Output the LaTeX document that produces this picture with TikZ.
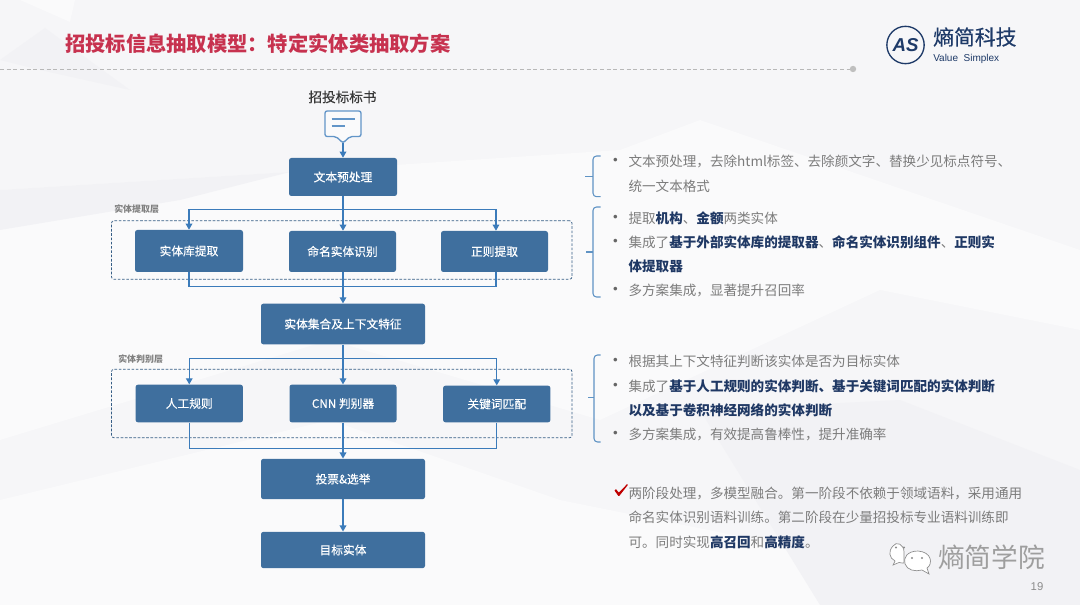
\documentclass[tikz,border=0pt]{standalone}
\usepackage{fontspec}
\setmainfont{Noto Sans CJK SC}
\newfontfamily\latinfont{Liberation Sans}
\newfontfamily\medfont[FakeBold=0.35]{Noto Sans CJK SC}
\usetikzlibrary{arrows.meta,calc}
\definecolor{bgbase}{HTML}{F6F6F8}
\definecolor{bglight}{HTML}{FAFAFB}
\definecolor{bgdark}{HTML}{F2F2F5}
\definecolor{boxblue}{HTML}{3F6F9E}
\definecolor{flowblue}{HTML}{3B7BBA}
\definecolor{bracegreyblue}{HTML}{5F93C4}
\definecolor{titlered}{HTML}{C7324F}
\definecolor{navy}{HTML}{1F3864}
\definecolor{greytext}{HTML}{7C7C7C}
\definecolor{logoblue}{HTML}{1E3A68}
\tikzset{
  box/.style={fill=boxblue,rounded corners=1.8pt,inner sep=0pt,text=white,font=\medfont\fontsize{8.8}{10}\selectfont,align=center},
  flow/.style={draw=flowblue,line width=0.95pt},
  arr/.style={flow,-{Triangle[length=4.6pt,width=5pt]}},
  layer/.style={draw=boxblue!85!black,dashed,dash pattern=on 2pt off 1.2pt,line width=0.55pt,rounded corners=2pt},
  layerlabel/.style={inner sep=0pt,text=black!50,font=\fontsize{6.7}{8}\selectfont\bfseries},
  txt/.style={anchor=west,inner sep=0pt,text=greytext,font=\fontsize{10.18}{12}\selectfont},
  bul/.style={inner sep=0pt,text=black!60,font=\latinfont\fontsize{10}{12}\selectfont},
  bracket/.style={draw=bracegreyblue,line width=0.8pt,rounded corners=2.6pt}
}
\newcommand{\hilite}[1]{{\bfseries\color{navy}#1}}
\begin{document}
\begin{tikzpicture}[x=0.75pt,y=-0.75pt]
\useasboundingbox (0,0) rectangle (1080,605);
% background
\fill[bgbase] (0,0) rectangle (1080,605);
\fill[bglight] (0,190) -- (290,172) -- (620,150) -- (700,120) -- (1080,250) -- (1080,330) -- (880,290) -- (600,420) -- (330,340) -- (0,440) -- cycle;
\fill[bgdark] (0,60) -- (45,28) -- (130,90) -- (40,70) -- cycle;
\fill[bglight] (20,0) -- (70,22) -- (75,0) -- cycle;
\fill[bgdark] (0,190) -- (290,172) -- (180,200) -- (0,230) -- cycle;
\fill[bgdark] (0,500) -- (120,540) -- (0,605) -- cycle;
\fill[bglight] (0,500) -- (330,420) -- (560,500) -- (1080,605) -- (0,605) -- cycle;
\fill[bgdark] (700,410) -- (900,400) -- (1080,470) -- (1080,605) -- (820,605) -- cycle;
% header
\node[inner sep=0pt,anchor=west,text=titlered,font=\fontsize{15.2}{18}\selectfont\bfseries] (title) at (65,44) {招投标信息抽取模型：特定实体类抽取方案};
\coordinate (ruleL) at (0,69);
\node[circle,fill=black!25,minimum size=4.8pt,inner sep=0pt] (ruledot) at (853,69) {};
\draw[black!28,dashed,dash pattern=on 3pt off 2pt,line width=0.5pt] (ruleL) -- (ruledot);
% logo
\node[circle,draw=logoblue,line width=1pt,minimum size=28pt,inner sep=0pt,text=logoblue,font=\latinfont\fontsize{14}{16}\selectfont\bfseries\itshape] (logo) at (905.5,45) {AS};
\node[inner sep=0pt,anchor=west,text=logoblue,font=\medfont\fontsize{15.6}{18}\selectfont] (brand) at (933,37) {熵简科技};
\node[inner sep=0pt,anchor=west,text=logoblue,font=\latinfont\fontsize{7.5}{9}\selectfont] (brandEn) at (933,59) {Value\ \ Simplex};
% source
\node[inner sep=0pt,text=black!78,font=\medfont\fontsize{10.2}{12}\selectfont] (src) at (342.5,97) {招投标标书};
\coordinate (tip) at (343,143);
\draw[draw=flowblue!80!white,fill=white,fill opacity=0.5,line width=1pt,rounded corners=1.6pt,line join=round]
  (325,111) -- (361,111) -- (361,136.5) -- (350,136.5) -- (343,143) -- (336,136.5) -- (325,136.5) -- cycle;
\draw[flowblue!80!white,line width=0.9pt] (331.5,119) -- (355,119) (331.5,126) -- (345,126);
% layers
\node[layer,minimum width=345.5pt,minimum height=44pt,inner sep=0pt] (layerA) at (341.75,250) {};
\node[layer,minimum width=345.5pt,minimum height=51.5pt,inner sep=0pt] (layerB) at (341.75,403.5) {};
\node[layerlabel,anchor=west] (layerAl) at (114,209) {实体提取层};
\node[layerlabel,anchor=west] (layerBl) at (118,359) {实体判别层};
% boxes
\node[box,minimum width=81pt,minimum height=28.5pt] (pre) at (343,177) {文本预处理};
\node[box,minimum width=81pt,minimum height=31.5pt] (a1) at (189,251) {实体库提取};
\node[box,minimum width=80.25pt,minimum height=30.75pt] (a2) at (342.5,251.5) {命名实体识别};
\node[box,minimum width=80.25pt,minimum height=30.75pt] (a3) at (494.5,251.5) {正则提取};
\node[box,minimum width=123pt,minimum height=30.5pt] (set) at (343,324) {实体集合及上下文特征};
\node[box,minimum width=80.5pt,minimum height=28.25pt] (b1) at (189.25,403.5) {人工规则};
\node[box,minimum width=80.25pt,minimum height=28.25pt] (b2) at (343,403.5) {CNN 判别器};
\node[box,minimum width=80.5pt,minimum height=27.5pt] (b3) at (496.75,404) {关键词匹配};
\node[box,minimum width=123pt,minimum height=30.25pt] (vote) at (343,479) {投票\&选举};
\node[box,minimum width=123pt,minimum height=27.25pt] (target) at (343,550) {目标实体};
% flow
\coordinate (busA) at (343,209.3);
\coordinate (busAout) at (343,286.7);
\coordinate (busB) at (343,358.7);
\coordinate (busBout) at (343,448.7);
\draw[arr] (tip) -- (pre.north);
\draw[flow] (pre.south) -- (busA);
\draw[arr] (busA) -| (a1.north);
\draw[arr] (busA) -- (a2.north -| busA);
\draw[arr] (busA) -| ([xshift=1.1pt]a3.north);
\draw[flow,line width=0.8pt] (a1.south) |- (busAout);
\draw[flow,line width=0.8pt] ([xshift=1.1pt]a3.south) |- (busAout);
\draw[flow] (a2.south -| busAout) -- (busAout);
\draw[arr] (busAout) -- (set.north);
\draw[flow] (set.south) -- (busB);
\draw[arr] (busB) -| (b1.north);
\draw[arr] (busB) -- (b2.north);
\draw[arr] (busB) -| (b3.north);
\draw[flow,line width=0.8pt] (b1.south) |- (busBout);
\draw[flow,line width=0.8pt] (b3.south) |- (busBout);
\draw[flow] (b2.south) -- (busBout);
\draw[arr] (busBout) -- (vote.north);
\draw[arr] (vote.south) -- (target.north);
% braces
\coordinate (brA) at (585,176.7);
\draw[bracket] (600.7,156) -- (593,156) -- (593,196.7) -- (600.7,196.7);
\draw[bracket] (brA) -- (593,176.7);
\coordinate (brB) at (586,252);
\draw[bracket] (600.7,207) -- (593,207) -- (593,297) -- (600.7,297);
\draw[bracket] (brB) -- (593,252);
\coordinate (brC) at (588,397.7);
\draw[bracket] (600.7,355) -- (594,355) -- (594,442) -- (600.7,442);
\draw[bracket] (brC) -- (594,397.7);
% right text
\node[bul] (d1) at (615.5,161.5) {•};
\node[txt] (t1) at (628.3,161.5) {文本预处理，去除html标签、去除颜文字、替换少见标点符号、};
\node[txt] (t1b) at (628.3,186) {统一文本格式};
\node[bul] (d2) at (615.5,218) {•};
\node[txt] (t2) at (628.3,218) {提取\hilite{机构}、\hilite{金额}两类实体};
\node[bul] (d3) at (615.5,242) {•};
\node[txt] (t3) at (628.3,242) {集成了\hilite{基于外部实体库的提取器}、\hilite{命名实体识别组件}、\hilite{正则实}};
\node[txt] (t3b) at (628.3,266) {\hilite{体提取器}};
\node[bul] (d4) at (615.5,290.5) {•};
\node[txt] (t4) at (628.3,290.5) {多方案集成，显著提升召回率};
\node[bul] (d5) at (615.5,361.5) {•};
\node[txt] (t5) at (628.3,361.5) {根据其上下文特征判断该实体是否为目标实体};
\node[bul] (d6) at (615.5,386) {•};
\node[txt] (t6) at (628.3,386) {集成了\hilite{基于人工规则的实体判断、基于关键词匹配的实体判断}};
\node[txt] (t6b) at (628.3,410.5) {\hilite{以及基于卷积神经网络的实体判断}};
\node[bul] (d7) at (615.5,434.5) {•};
\node[txt] (t7) at (628.3,434.5) {多方案集成，有效提高鲁棒性，提升准确率};
% check
\fill[red!75!black] (614.5,490.5) -- (616,489.2) -- (618.8,492.6) -- (627,484.2) -- (627.8,485) -- (619.4,495.8) -- (618.2,495.8) -- cycle;
\node[txt] (c1) at (628.3,493) {两阶段处理，多模型融合。第一阶段不依赖于领域语料，采用通用};
\node[txt] (c2) at (628.3,517.5) {命名实体识别语料训练。第二阶段在少量招投标专业语料训练即};
\node[txt] (c3) at (628.3,542) {可。同时实现\hilite{高召回}和\hilite{高精度}。};
% watermark
\begin{scope}[draw=black!45,fill=white,line width=0.5pt]
\filldraw (904,552) .. controls (904,544) and (896,541) .. (893,546) .. controls (888,551) and (889,558) .. (895,561) -- (893,565) -- (899,562.5) .. controls (901,563) and (903,563) .. (904,563) -- cycle;
\filldraw (918,551) .. controls (907,551) and (903,558) .. (905,564) .. controls (907,570) and (915,572) .. (922,570) -- (929,574) -- (927,568) .. controls (933,564) and (932,552) .. (918,551) -- cycle;
\fill[black!45] (896,547.5) circle (0.9pt) (904,547.5) circle (0.9pt) (912,558) circle (0.9pt) (922,558) circle (0.9pt);
\end{scope}
\node[inner sep=0pt,anchor=west,text=black!38,font=\fontsize{20}{24}\selectfont] (wm) at (938,557) {熵简学院};
\node[inner sep=0pt,text=black!45,font=\latinfont\fontsize{8.5}{10}\selectfont] (page) at (1037,587) {19};
\end{tikzpicture}
\end{document}
